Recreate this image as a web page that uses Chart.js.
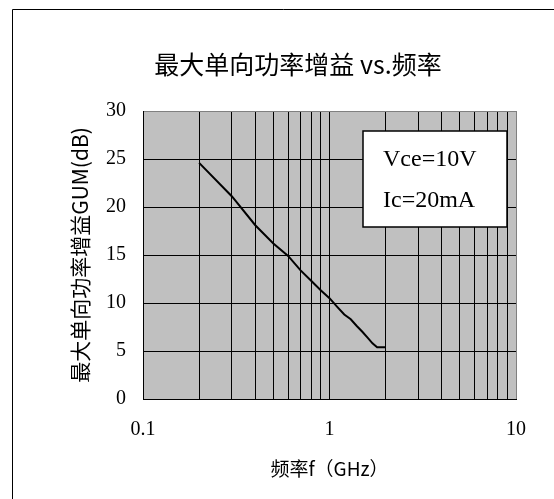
<!DOCTYPE html>
<html>
<head>
    <title>最大单向功率增益 vs.频率</title>
    <style>
        body { margin: 0; background: white; }
        #wrap { width: 554px; height: 499px; }
    </style>
</head>
<body>

<div id="wrap">
    <canvas id="gumChart" width="554" height="499"></canvas>
</div>

<script src="https://cdn.jsdelivr.net/npm/chart.js"></script>
<script>
    // data
    const freqGHz = [0.2, 0.3, 0.4, 0.5, 0.6, 0.7, 0.8, 0.9, 1.0, 1.1, 1.2, 1.3, 1.4, 1.5, 1.6, 1.7, 1.8, 1.9, 2.0];
    const gumDb = [24.6, 21.1, 18.1, 16.2, 14.9, 13.4, 12.3, 11.3, 10.5, 9.6, 8.8, 8.3, 7.6, 7.0, 6.4, 5.8, 5.4, 5.4, 5.4];
    const xTicks = [0.1, 0.2, 0.3, 0.4, 0.5, 0.6, 0.7, 0.8, 0.9, 1, 2, 3, 4, 5, 6, 7, 8, 9, 10];
    const xLabelTicks = ['0.1', '1', '10'];
    const yMin = 0, yMax = 30, yStep = 5;
    const chartTitle = '最大单向功率增益 vs.频率';
    const noteLines = ['Vce=10V', 'Ic=20mA'];

    const serif = "'Liberation Serif', 'Noto Sans CJK SC', serif";
    const cjk = "'Noto Sans CJK SC', 'Liberation Serif', sans-serif";

    // plot background, frame, title and the condition box
    const decor = {
        id: 'decor',
        beforeDraw(chart) {
            const { ctx, chartArea: a } = chart;
            ctx.save();
            ctx.fillStyle = '#c0c0c0';
            ctx.fillRect(a.left, a.top, a.right - a.left, a.bottom - a.top);
            ctx.restore();
        },
        afterDraw(chart) {
            const ctx = chart.ctx;
            ctx.save();
            // outer frame (only top and left show in the crop)
            ctx.strokeStyle = '#000';
            ctx.lineWidth = 1;
            ctx.beginPath();
            ctx.moveTo(12.5, 499);
            ctx.lineTo(12.5, 9.5);
            ctx.lineTo(554, 9.5);
            ctx.stroke();

            // title
            ctx.fillStyle = '#000';
            ctx.font = "25px " + cjk;
            ctx.textAlign = 'center';
            ctx.textBaseline = 'middle';
            ctx.fillText(chartTitle, 298, 64);

            // condition box
            ctx.fillStyle = '#fff';
            ctx.fillRect(363, 131, 144, 96);
            ctx.lineWidth = 1.5;
            ctx.strokeRect(363, 131, 144, 96);
            ctx.fillStyle = '#000';
            ctx.font = "24px " + serif;
            ctx.textAlign = 'left';
            ctx.textBaseline = 'alphabetic';
            ctx.fillText(noteLines[0], 383, 166);
            ctx.fillText(noteLines[1], 383, 207);
            ctx.restore();
        }
    };

    new Chart(document.getElementById('gumChart'), {
        type: 'line',
        data: {
            datasets: [{
                data: freqGHz.map((f, i) => ({ x: f, y: gumDb[i] })),
                borderColor: '#000',
                borderWidth: 2,
                pointRadius: 0,
                tension: 0,
                fill: false
            }]
        },
        options: {
            responsive: false,
            animation: false,
            layout: { padding: { left: 13, top: 111, right: 38, bottom: 0 } },
            plugins: {
                legend: { display: false },
                tooltip: { enabled: false }
            },
            scales: {
                x: {
                    type: 'logarithmic',
                    min: 0.1,
                    max: 10,
                    afterBuildTicks: scale => { scale.ticks = xTicks.map(v => ({ value: v })); },
                    afterFit: scale => { scale.height = 100; },
                    grid: {
                        color: ctx => (ctx.tick && ctx.tick.value === 10 ? '#808080' : '#000'),
                        lineWidth: 1,
                        drawTicks: false
                    },
                    border: { color: '#000', width: 1 },
                    ticks: {
                        autoSkip: false,
                        maxRotation: 0,
                        padding: 19,
                        color: '#000',
                        font: { family: serif, size: 20 },
                        callback: v => (xLabelTicks.includes(String(v)) ? String(v) : '')
                    },
                    title: {
                        display: true,
                        text: '频率f（GHz）',
                        color: '#000',
                        font: { family: cjk, size: 19 },
                        padding: { top: 0, bottom: 19 }
                    }
                },
                y: {
                    min: yMin,
                    max: yMax,
                    afterFit: scale => { scale.width = 130; },
                    grid: {
                        color: ctx => (ctx.tick && ctx.tick.value === yMax ? '#808080' : '#000'),
                        lineWidth: 1,
                        drawTicks: false
                    },
                    border: { color: '#000', width: 1 },
                    ticks: {
                        stepSize: yStep,
                        padding: 17,
                        color: '#000',
                        font: { family: serif, size: 20 }
                    },
                    title: {
                        display: true,
                        text: '最大单向功率增益GUM(dB)',
                        color: '#000',
                        font: { family: cjk, size: 21 },
                        padding: { top: 54, bottom: 0 }
                    }
                }
            }
        },
        plugins: [decor]
    });
</script>

</body>
</html>
